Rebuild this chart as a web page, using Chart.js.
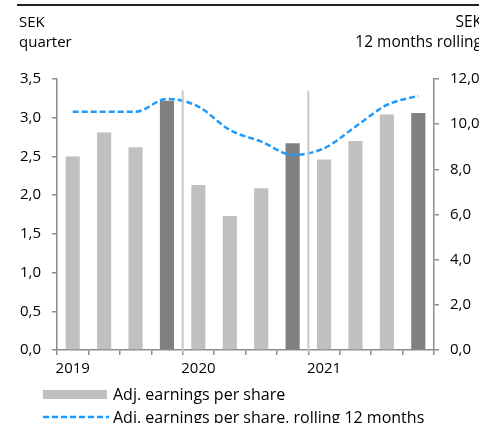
<!DOCTYPE html>
<html>
<head>
<meta charset="utf-8">
<script src="https://cdn.jsdelivr.net/npm/chart.js@4"></script>
<style>
  html,body{margin:0;padding:0;background:#fff;}
  #wrap{position:relative;width:479px;height:423px;overflow:hidden;font-family:"Open Sans",sans-serif;color:#000;}
  canvas{position:absolute;left:0;top:0;}
  .t{position:absolute;font-size:15px;line-height:20px;white-space:nowrap;}
  .lg{font-size:16px;}
  #topline{position:absolute;left:17px;top:4px;width:470px;height:2px;background:#222;}
</style>
</head>
<body>
<div id="wrap">
  <canvas id="c" width="479" height="423"></canvas>
  <div id="topline"></div>
  <div class="t" id="lt" style="left:19px;top:11px;">SEK<br>quarter</div>
  <div class="t" id="rt" style="right:-3px;top:11px;text-align:right;font-size:15.5px;">SEK<br>12 months rolling</div>
  <div style="position:absolute;left:43px;top:390px;width:64px;height:9px;background:#c0c0c0;"></div>
  <div class="t lg" style="left:113px;top:384px;" id="lg1">Adj. earnings per share</div>
  <svg style="position:absolute;left:43px;top:414px;" width="66" height="6"><line x1="0" y1="3" x2="66" y2="3" stroke="#1e9bff" stroke-width="2.5" stroke-dasharray="6,3"/></svg>
  <div class="t lg" style="left:113px;top:407px;" id="lg2">Adj. earnings per share, rolling 12 months</div>
</div>
<script>
const categories = ['Q1 2019','Q2 2019','Q3 2019','Q4 2019','Q1 2020','Q2 2020','Q3 2020','Q4 2020','Q1 2021','Q2 2021','Q3 2021','Q4 2021'];
const yearLabels = ['2019','','','','2020','','','','2021','','',''];
const epsQuarter = [2.50, 2.81, 2.62, 3.22, 2.13, 1.73, 2.09, 2.67, 2.46, 2.70, 3.04, 3.06];
const epsRolling = [10.55, 10.55, 10.55, 11.12, 10.78, 9.74, 9.23, 8.64, 8.93, 9.89, 10.85, 11.26];
const leftTicks = [0, 0.5, 1.0, 1.5, 2.0, 2.5, 3.0, 3.5];
const rightTicks = [0, 2, 4, 6, 8, 10, 12];

const barColors = categories.map(c => c.startsWith('Q4') ? '#808080' : '#c0c0c0');
const fmt = v => v.toFixed(1).replace('.', ',');
const axisColor = '#8c8c8c';
const tickFont = {family: '"Open Sans", sans-serif', size: 15};

const separators = {
  id: 'separators',
  afterDatasetsDraw(chart) {
    const x = chart.scales.x, ctx = chart.ctx;
    ctx.save();
    ctx.strokeStyle = '#c8c8c8';
    ctx.lineWidth = 2;
    [3, 7].forEach(i => {
      const px = (x.getPixelForValue(i) + x.getPixelForValue(i + 1)) / 2;
      ctx.beginPath();
      ctx.moveTo(px, chart.scales.y.getPixelForValue(3.35));
      ctx.lineTo(px, chart.chartArea.bottom + 3);
      ctx.stroke();
    });
    ctx.restore();
  }
};

new Chart(document.getElementById('c'), {
  data: {
    labels: categories,
    datasets: [
      {
        type: 'line', label: 'Adj. earnings per share, rolling 12 months',
        data: epsRolling, yAxisID: 'y2', borderColor: '#1e9bff', borderWidth: 2.5,
        borderDash: [6, 3], pointRadius: 0, cubicInterpolationMode: 'monotone', fill: false, order: 0
      },
      {
        type: 'bar', label: 'Adj. earnings per share', data: epsQuarter, yAxisID: 'y',
        backgroundColor: barColors, barPercentage: 0.45, categoryPercentage: 1.0, order: 1
      }
    ]
  },
  options: {
    responsive: false, animation: false,
    layout: {padding: {top: 79, left: 0, right: 0, bottom: 0}},
    plugins: {legend: {display: false}, tooltip: {enabled: false}},
    scales: {
      x: {
        offset: true,
        grid: {offset: true, drawOnChartArea: false, color: axisColor, tickLength: 5, lineWidth: 1.5},
        border: {color: axisColor, width: 1.5},
        ticks: {autoSkip: false, maxRotation: 0, padding: 5, color: '#000', font: tickFont,
          callback: (v, i) => yearLabels[i]},
        afterFit: s => { s.height = 73; }
      },
      y: {
        position: 'left', min: 0, max: 3.5,
        afterBuildTicks: s => { s.ticks = leftTicks.map(v => ({value: v})); },
        grid: {drawOnChartArea: false, color: axisColor, tickLength: 5, lineWidth: 1.5},
        border: {color: axisColor, width: 1.5},
        ticks: {padding: 11, color: '#000', font: tickFont, callback: v => fmt(v)},
        afterFit: s => { s.width = 57; }
      },
      y2: {
        position: 'right', min: 0, max: 12,
        afterBuildTicks: s => { s.ticks = rightTicks.map(v => ({value: v})); },
        grid: {drawOnChartArea: false, color: axisColor, tickLength: 5, lineWidth: 1.5},
        border: {color: axisColor, width: 1.5},
        ticks: {padding: 11, color: '#000', font: tickFont, callback: v => fmt(v)},
        afterFit: s => { s.width = 45; }
      }
    }
  },
  plugins: [separators]
});
</script>
</body>
</html>
